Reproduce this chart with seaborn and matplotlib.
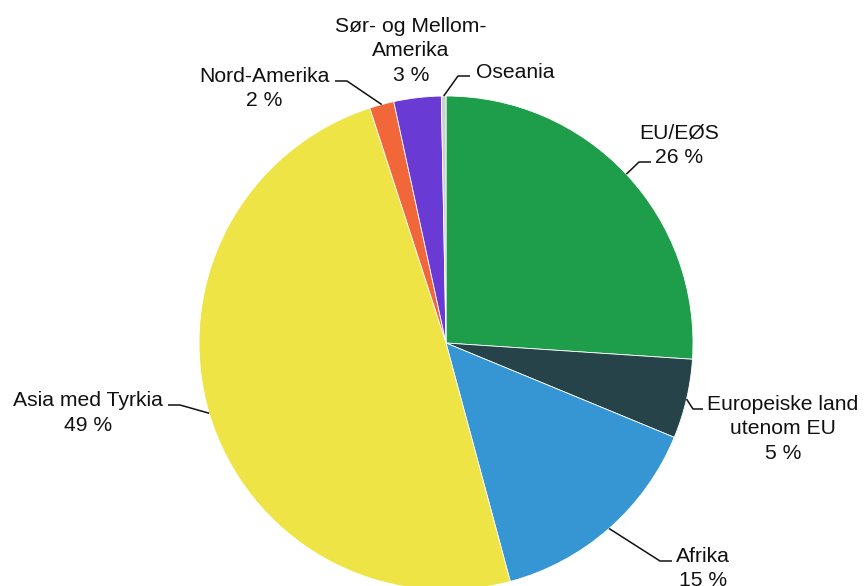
import numpy as np
import matplotlib
matplotlib.use("Agg")
import matplotlib.pyplot as plt
import seaborn as sns

# shares of total
regions = ["EU/EØS", "Europeiske land\nutenom EU", "Afrika", "Asia med Tyrkia",
           "Nord-Amerika", "Sør- og Mellom-\nAmerika", "Oseania"]
shares = [26.1, 5.2, 14.6, 49.3, 1.6, 3.1, 0.3]
show_pct = [True, True, True, True, True, True, False]
colors = ["#1e9e4a", "#27434a", "#3596d3", "#efe445", "#f2673a", "#6a3ad4", "#cfcfcf"]

sns.set_theme(style="white")
plt.rcParams["font.family"] = ["Liberation Sans", "DejaVu Sans"]

W, H = 864, 586
fig = plt.figure(figsize=(W / 100, H / 100), dpi=100)
ax = fig.add_axes([0, 0, 1, 1])

cx, cy, r = 446, H - 343, 247
wedges, _ = ax.pie(shares, colors=colors, startangle=90, counterclock=False,
                   center=(cx, cy), radius=r, frame=True,
                   wedgeprops=dict(linewidth=0.6, edgecolor="white"))
ax.set_xlim(0, W)
ax.set_ylim(0, H)
ax.set_aspect("equal")
ax.axis("off")

# label layout in pixel coords (y down): first line centre, alignment, leader elbow/end
layout = {
    "EU/EØS": dict(pos=(679, 131), ha="center", leader=[(639, 162), (651, 162)]),
    "Europeiske land\nutenom EU": dict(pos=(783, 402), ha="center", leader=[(693, 409), (703, 409)]),
    "Afrika": dict(pos=(703, 554), ha="center", leader=[(660, 561), (672, 561)]),
    "Asia med Tyrkia": dict(pos=(88, 399), ha="center", leader=[(180, 405), (168, 405)]),
    "Nord-Amerika": dict(pos=(264, 74), ha="center", leader=[(347, 81), (335, 81)]),
    "Sør- og Mellom-\nAmerika": dict(pos=(411, 24), ha="center", leader=None),
    "Oseania": dict(pos=(476, 70), ha="left", leader=[(458, 76), (470, 76)]),
}
step = 24.8

for w, name, v, pct in zip(wedges, regions, shares, show_pct):
    lay = layout[name]
    lines = name.split("\n") + ([f"{v:.0f} %"] if pct else [])
    x, y = lay["pos"]
    for i, line in enumerate(lines):
        ax.text(x, H - (y + i * step), line, ha=lay["ha"], va="center_baseline",
                fontsize=15.2, color="#111111")
    if lay["leader"]:
        mid = np.deg2rad((w.theta1 + w.theta2) / 2)
        pts = [(cx + r * np.cos(mid), cy + r * np.sin(mid))]
        pts += [(px, H - py) for px, py in lay["leader"]]
        xs, ys = zip(*pts)
        ax.plot(xs, ys, color="#111111", lw=1.1, solid_capstyle="butt")

fig.savefig("out.png", dpi=100)
